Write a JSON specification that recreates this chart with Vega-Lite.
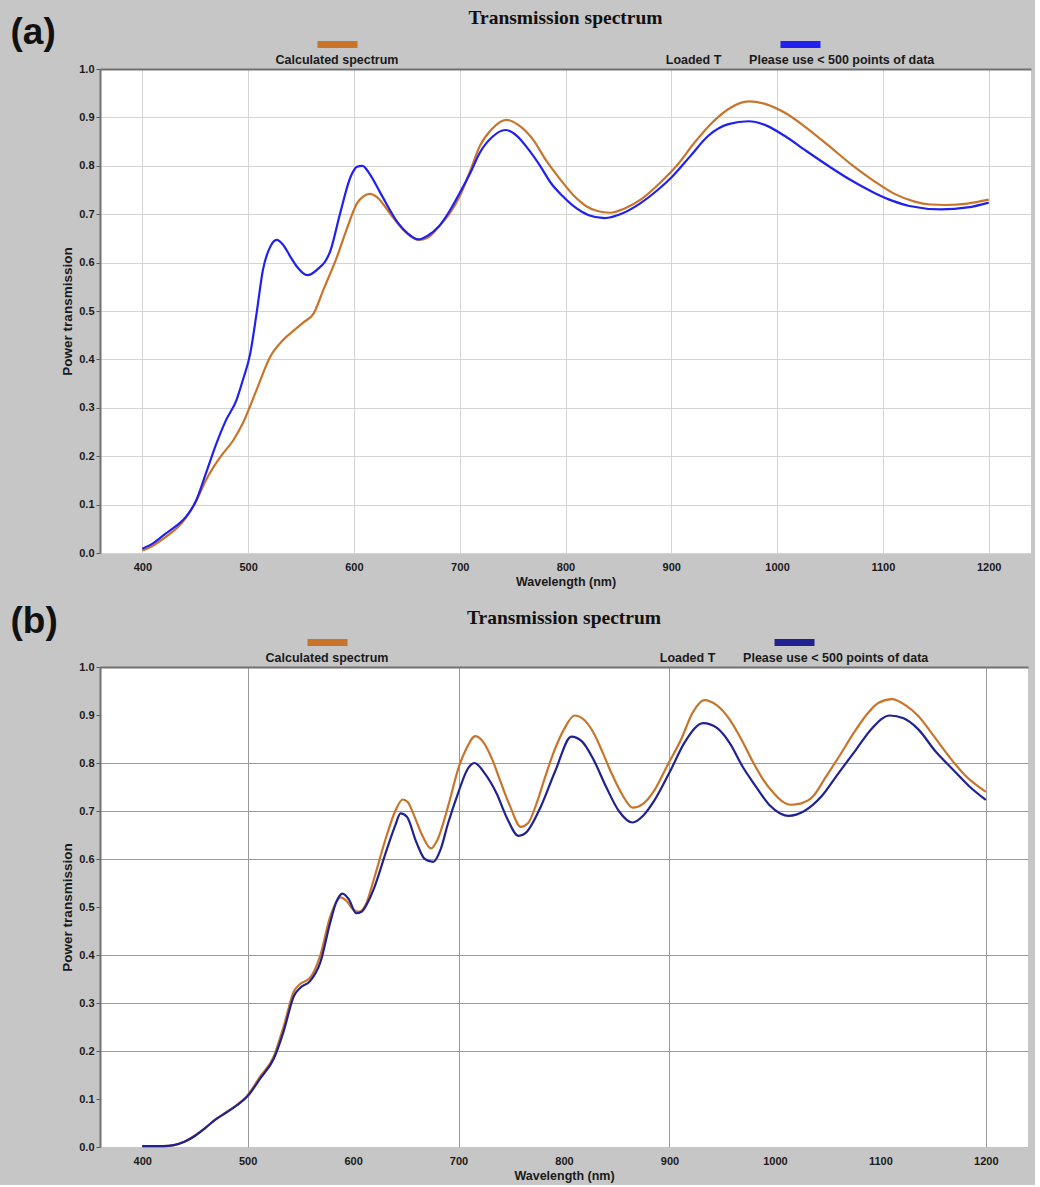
{
  "$schema": "https://vega.github.io/schema/vega-lite/v6.json",
  "background": "#c6c6c6",
  "padding": {"left": 10, "top": 7, "right": 4, "bottom": 3},
  "spacing": 14,
  "resolve": {"scale": {"color": "independent"}},
  "config": {
    "view": {"stroke": null, "fill": "white"},
    "axis": {"labelFont": "Liberation Sans", "labelFontWeight": "bold", "labelFontSize": 11, "labelColor": "#1a1a1a", "titleFont": "Liberation Sans", "titleFontWeight": "bold", "titleFontSize": 12.5, "titleColor": "#1a1a1a"},
    "legend": {"labelFont": "Liberation Sans", "labelFontWeight": "bold", "labelFontSize": 12.5, "labelColor": "#1a1a1a"},
    "title": {"font": "Liberation Serif", "fontSize": 19.5, "fontWeight": "bold", "color": "#111111", "anchor": "middle"}
  },
  "datasets": {
    "a": [
      {"series": "Calculated spectrum", "nm": 400, "T": 0.005},
      {"series": "Calculated spectrum", "nm": 410, "T": 0.015},
      {"series": "Calculated spectrum", "nm": 422, "T": 0.033},
      {"series": "Calculated spectrum", "nm": 432, "T": 0.05},
      {"series": "Calculated spectrum", "nm": 441, "T": 0.072},
      {"series": "Calculated spectrum", "nm": 451, "T": 0.108},
      {"series": "Calculated spectrum", "nm": 460, "T": 0.15},
      {"series": "Calculated spectrum", "nm": 468, "T": 0.18},
      {"series": "Calculated spectrum", "nm": 475, "T": 0.202},
      {"series": "Calculated spectrum", "nm": 486, "T": 0.233},
      {"series": "Calculated spectrum", "nm": 495, "T": 0.268},
      {"series": "Calculated spectrum", "nm": 508, "T": 0.337},
      {"series": "Calculated spectrum", "nm": 521, "T": 0.406},
      {"series": "Calculated spectrum", "nm": 533, "T": 0.44},
      {"series": "Calculated spectrum", "nm": 545, "T": 0.463},
      {"series": "Calculated spectrum", "nm": 552, "T": 0.476},
      {"series": "Calculated spectrum", "nm": 562, "T": 0.495},
      {"series": "Calculated spectrum", "nm": 571, "T": 0.543},
      {"series": "Calculated spectrum", "nm": 584, "T": 0.612},
      {"series": "Calculated spectrum", "nm": 594, "T": 0.674},
      {"series": "Calculated spectrum", "nm": 603, "T": 0.723},
      {"series": "Calculated spectrum", "nm": 609, "T": 0.737},
      {"series": "Calculated spectrum", "nm": 615, "T": 0.742},
      {"series": "Calculated spectrum", "nm": 622, "T": 0.735},
      {"series": "Calculated spectrum", "nm": 634, "T": 0.702},
      {"series": "Calculated spectrum", "nm": 648, "T": 0.665},
      {"series": "Calculated spectrum", "nm": 661, "T": 0.647},
      {"series": "Calculated spectrum", "nm": 670, "T": 0.652},
      {"series": "Calculated spectrum", "nm": 680, "T": 0.674},
      {"series": "Calculated spectrum", "nm": 690, "T": 0.7},
      {"series": "Calculated spectrum", "nm": 700, "T": 0.737},
      {"series": "Calculated spectrum", "nm": 710, "T": 0.79},
      {"series": "Calculated spectrum", "nm": 719, "T": 0.841},
      {"series": "Calculated spectrum", "nm": 730, "T": 0.875},
      {"series": "Calculated spectrum", "nm": 744, "T": 0.895},
      {"series": "Calculated spectrum", "nm": 755, "T": 0.885},
      {"series": "Calculated spectrum", "nm": 769, "T": 0.855},
      {"series": "Calculated spectrum", "nm": 782, "T": 0.81},
      {"series": "Calculated spectrum", "nm": 795, "T": 0.772},
      {"series": "Calculated spectrum", "nm": 808, "T": 0.738},
      {"series": "Calculated spectrum", "nm": 820, "T": 0.716},
      {"series": "Calculated spectrum", "nm": 831, "T": 0.706},
      {"series": "Calculated spectrum", "nm": 842, "T": 0.703},
      {"series": "Calculated spectrum", "nm": 856, "T": 0.712},
      {"series": "Calculated spectrum", "nm": 871, "T": 0.73},
      {"series": "Calculated spectrum", "nm": 888, "T": 0.762},
      {"series": "Calculated spectrum", "nm": 905, "T": 0.8},
      {"series": "Calculated spectrum", "nm": 922, "T": 0.848},
      {"series": "Calculated spectrum", "nm": 939, "T": 0.89},
      {"series": "Calculated spectrum", "nm": 956, "T": 0.92},
      {"series": "Calculated spectrum", "nm": 973, "T": 0.933},
      {"series": "Calculated spectrum", "nm": 990, "T": 0.927},
      {"series": "Calculated spectrum", "nm": 1007, "T": 0.91},
      {"series": "Calculated spectrum", "nm": 1028, "T": 0.878},
      {"series": "Calculated spectrum", "nm": 1049, "T": 0.841},
      {"series": "Calculated spectrum", "nm": 1070, "T": 0.803},
      {"series": "Calculated spectrum", "nm": 1092, "T": 0.768},
      {"series": "Calculated spectrum", "nm": 1111, "T": 0.742},
      {"series": "Calculated spectrum", "nm": 1130, "T": 0.726},
      {"series": "Calculated spectrum", "nm": 1145, "T": 0.72},
      {"series": "Calculated spectrum", "nm": 1159, "T": 0.719},
      {"series": "Calculated spectrum", "nm": 1180, "T": 0.722},
      {"series": "Calculated spectrum", "nm": 1200, "T": 0.73},
      {"series": "Loaded T", "nm": 400, "T": 0.009},
      {"series": "Loaded T", "nm": 410, "T": 0.02},
      {"series": "Loaded T", "nm": 422, "T": 0.04},
      {"series": "Loaded T", "nm": 432, "T": 0.056},
      {"series": "Loaded T", "nm": 441, "T": 0.074},
      {"series": "Loaded T", "nm": 451, "T": 0.109},
      {"series": "Loaded T", "nm": 460, "T": 0.164},
      {"series": "Loaded T", "nm": 470, "T": 0.226},
      {"series": "Loaded T", "nm": 479, "T": 0.274},
      {"series": "Loaded T", "nm": 489, "T": 0.316},
      {"series": "Loaded T", "nm": 495, "T": 0.357},
      {"series": "Loaded T", "nm": 502, "T": 0.412},
      {"series": "Loaded T", "nm": 508, "T": 0.495},
      {"series": "Loaded T", "nm": 514, "T": 0.585},
      {"series": "Loaded T", "nm": 521, "T": 0.633},
      {"series": "Loaded T", "nm": 527, "T": 0.647},
      {"series": "Loaded T", "nm": 533, "T": 0.637},
      {"series": "Loaded T", "nm": 540, "T": 0.612},
      {"series": "Loaded T", "nm": 546, "T": 0.592},
      {"series": "Loaded T", "nm": 556, "T": 0.574},
      {"series": "Loaded T", "nm": 565, "T": 0.585},
      {"series": "Loaded T", "nm": 578, "T": 0.626},
      {"series": "Loaded T", "nm": 587, "T": 0.702},
      {"series": "Loaded T", "nm": 597, "T": 0.778},
      {"series": "Loaded T", "nm": 603, "T": 0.798},
      {"series": "Loaded T", "nm": 608, "T": 0.8},
      {"series": "Loaded T", "nm": 615, "T": 0.783},
      {"series": "Loaded T", "nm": 625, "T": 0.744},
      {"series": "Loaded T", "nm": 642, "T": 0.681},
      {"series": "Loaded T", "nm": 651, "T": 0.66},
      {"series": "Loaded T", "nm": 661, "T": 0.648},
      {"series": "Loaded T", "nm": 670, "T": 0.656},
      {"series": "Loaded T", "nm": 680, "T": 0.674},
      {"series": "Loaded T", "nm": 690, "T": 0.705},
      {"series": "Loaded T", "nm": 700, "T": 0.744},
      {"series": "Loaded T", "nm": 710, "T": 0.785},
      {"series": "Loaded T", "nm": 719, "T": 0.827},
      {"series": "Loaded T", "nm": 731, "T": 0.86},
      {"series": "Loaded T", "nm": 743, "T": 0.874},
      {"series": "Loaded T", "nm": 754, "T": 0.862},
      {"series": "Loaded T", "nm": 765, "T": 0.834},
      {"series": "Loaded T", "nm": 776, "T": 0.8},
      {"series": "Loaded T", "nm": 786, "T": 0.765},
      {"series": "Loaded T", "nm": 797, "T": 0.738},
      {"series": "Loaded T", "nm": 808, "T": 0.716},
      {"series": "Loaded T", "nm": 822, "T": 0.698},
      {"series": "Loaded T", "nm": 837, "T": 0.692},
      {"series": "Loaded T", "nm": 854, "T": 0.702},
      {"series": "Loaded T", "nm": 871, "T": 0.723},
      {"series": "Loaded T", "nm": 886, "T": 0.748},
      {"series": "Loaded T", "nm": 901, "T": 0.778},
      {"series": "Loaded T", "nm": 918, "T": 0.82},
      {"series": "Loaded T", "nm": 935, "T": 0.862},
      {"series": "Loaded T", "nm": 954, "T": 0.886},
      {"series": "Loaded T", "nm": 973, "T": 0.892},
      {"series": "Loaded T", "nm": 990, "T": 0.883},
      {"series": "Loaded T", "nm": 1007, "T": 0.862},
      {"series": "Loaded T", "nm": 1028, "T": 0.83},
      {"series": "Loaded T", "nm": 1049, "T": 0.799},
      {"series": "Loaded T", "nm": 1070, "T": 0.77},
      {"series": "Loaded T", "nm": 1092, "T": 0.744},
      {"series": "Loaded T", "nm": 1110, "T": 0.727},
      {"series": "Loaded T", "nm": 1125, "T": 0.717},
      {"series": "Loaded T", "nm": 1155, "T": 0.71},
      {"series": "Loaded T", "nm": 1180, "T": 0.714},
      {"series": "Loaded T", "nm": 1200, "T": 0.724}
    ],
    "b": [
      {"series": "Calculated spectrum", "nm": 400, "T": 0.002},
      {"series": "Calculated spectrum", "nm": 420, "T": 0.002},
      {"series": "Calculated spectrum", "nm": 430, "T": 0.004},
      {"series": "Calculated spectrum", "nm": 440, "T": 0.011},
      {"series": "Calculated spectrum", "nm": 450, "T": 0.024},
      {"series": "Calculated spectrum", "nm": 460, "T": 0.04},
      {"series": "Calculated spectrum", "nm": 470, "T": 0.058},
      {"series": "Calculated spectrum", "nm": 480, "T": 0.073},
      {"series": "Calculated spectrum", "nm": 490, "T": 0.088},
      {"series": "Calculated spectrum", "nm": 500, "T": 0.108},
      {"series": "Calculated spectrum", "nm": 512, "T": 0.147},
      {"series": "Calculated spectrum", "nm": 525, "T": 0.19},
      {"series": "Calculated spectrum", "nm": 534, "T": 0.25},
      {"series": "Calculated spectrum", "nm": 544, "T": 0.325},
      {"series": "Calculated spectrum", "nm": 550, "T": 0.34},
      {"series": "Calculated spectrum", "nm": 559, "T": 0.352},
      {"series": "Calculated spectrum", "nm": 569, "T": 0.4},
      {"series": "Calculated spectrum", "nm": 578, "T": 0.478},
      {"series": "Calculated spectrum", "nm": 584, "T": 0.51},
      {"series": "Calculated spectrum", "nm": 588, "T": 0.52},
      {"series": "Calculated spectrum", "nm": 594, "T": 0.512},
      {"series": "Calculated spectrum", "nm": 600, "T": 0.495},
      {"series": "Calculated spectrum", "nm": 606, "T": 0.49},
      {"series": "Calculated spectrum", "nm": 612, "T": 0.505},
      {"series": "Calculated spectrum", "nm": 620, "T": 0.56},
      {"series": "Calculated spectrum", "nm": 632, "T": 0.65},
      {"series": "Calculated spectrum", "nm": 640, "T": 0.7},
      {"series": "Calculated spectrum", "nm": 647, "T": 0.724},
      {"series": "Calculated spectrum", "nm": 652, "T": 0.718},
      {"series": "Calculated spectrum", "nm": 657, "T": 0.695},
      {"series": "Calculated spectrum", "nm": 665, "T": 0.652},
      {"series": "Calculated spectrum", "nm": 674, "T": 0.622},
      {"series": "Calculated spectrum", "nm": 680, "T": 0.64},
      {"series": "Calculated spectrum", "nm": 690, "T": 0.709},
      {"series": "Calculated spectrum", "nm": 700, "T": 0.79},
      {"series": "Calculated spectrum", "nm": 707, "T": 0.828},
      {"series": "Calculated spectrum", "nm": 716, "T": 0.856},
      {"series": "Calculated spectrum", "nm": 724, "T": 0.842},
      {"series": "Calculated spectrum", "nm": 732, "T": 0.807},
      {"series": "Calculated spectrum", "nm": 740, "T": 0.76},
      {"series": "Calculated spectrum", "nm": 749, "T": 0.709},
      {"series": "Calculated spectrum", "nm": 759, "T": 0.667},
      {"series": "Calculated spectrum", "nm": 766, "T": 0.675},
      {"series": "Calculated spectrum", "nm": 774, "T": 0.716},
      {"series": "Calculated spectrum", "nm": 782, "T": 0.77},
      {"series": "Calculated spectrum", "nm": 790, "T": 0.821},
      {"series": "Calculated spectrum", "nm": 800, "T": 0.87},
      {"series": "Calculated spectrum", "nm": 810, "T": 0.899},
      {"series": "Calculated spectrum", "nm": 819, "T": 0.89},
      {"series": "Calculated spectrum", "nm": 828, "T": 0.863},
      {"series": "Calculated spectrum", "nm": 837, "T": 0.82},
      {"series": "Calculated spectrum", "nm": 845, "T": 0.779},
      {"series": "Calculated spectrum", "nm": 855, "T": 0.735},
      {"series": "Calculated spectrum", "nm": 865, "T": 0.707},
      {"series": "Calculated spectrum", "nm": 875, "T": 0.715},
      {"series": "Calculated spectrum", "nm": 886, "T": 0.744},
      {"series": "Calculated spectrum", "nm": 898, "T": 0.795},
      {"series": "Calculated spectrum", "nm": 911, "T": 0.849},
      {"series": "Calculated spectrum", "nm": 922, "T": 0.905},
      {"series": "Calculated spectrum", "nm": 933, "T": 0.931},
      {"series": "Calculated spectrum", "nm": 945, "T": 0.92},
      {"series": "Calculated spectrum", "nm": 957, "T": 0.891},
      {"series": "Calculated spectrum", "nm": 968, "T": 0.85},
      {"series": "Calculated spectrum", "nm": 978, "T": 0.807},
      {"series": "Calculated spectrum", "nm": 989, "T": 0.765},
      {"series": "Calculated spectrum", "nm": 999, "T": 0.737},
      {"series": "Calculated spectrum", "nm": 1007, "T": 0.72},
      {"series": "Calculated spectrum", "nm": 1015, "T": 0.713},
      {"series": "Calculated spectrum", "nm": 1025, "T": 0.716},
      {"series": "Calculated spectrum", "nm": 1036, "T": 0.73},
      {"series": "Calculated spectrum", "nm": 1048, "T": 0.77},
      {"series": "Calculated spectrum", "nm": 1061, "T": 0.814},
      {"series": "Calculated spectrum", "nm": 1074, "T": 0.86},
      {"series": "Calculated spectrum", "nm": 1086, "T": 0.898},
      {"series": "Calculated spectrum", "nm": 1098, "T": 0.925},
      {"series": "Calculated spectrum", "nm": 1111, "T": 0.933},
      {"series": "Calculated spectrum", "nm": 1124, "T": 0.92},
      {"series": "Calculated spectrum", "nm": 1136, "T": 0.898},
      {"series": "Calculated spectrum", "nm": 1150, "T": 0.858},
      {"series": "Calculated spectrum", "nm": 1165, "T": 0.814},
      {"series": "Calculated spectrum", "nm": 1180, "T": 0.775},
      {"series": "Calculated spectrum", "nm": 1200, "T": 0.74},
      {"series": "Loaded T", "nm": 400, "T": 0.002},
      {"series": "Loaded T", "nm": 420, "T": 0.002},
      {"series": "Loaded T", "nm": 430, "T": 0.004},
      {"series": "Loaded T", "nm": 440, "T": 0.011},
      {"series": "Loaded T", "nm": 450, "T": 0.023},
      {"series": "Loaded T", "nm": 460, "T": 0.04},
      {"series": "Loaded T", "nm": 470, "T": 0.058},
      {"series": "Loaded T", "nm": 480, "T": 0.072},
      {"series": "Loaded T", "nm": 490, "T": 0.087},
      {"series": "Loaded T", "nm": 500, "T": 0.106},
      {"series": "Loaded T", "nm": 512, "T": 0.143},
      {"series": "Loaded T", "nm": 525, "T": 0.185},
      {"series": "Loaded T", "nm": 534, "T": 0.24},
      {"series": "Loaded T", "nm": 544, "T": 0.315},
      {"series": "Loaded T", "nm": 550, "T": 0.332},
      {"series": "Loaded T", "nm": 559, "T": 0.345},
      {"series": "Loaded T", "nm": 569, "T": 0.385},
      {"series": "Loaded T", "nm": 578, "T": 0.465},
      {"series": "Loaded T", "nm": 584, "T": 0.51},
      {"series": "Loaded T", "nm": 590, "T": 0.528},
      {"series": "Loaded T", "nm": 596, "T": 0.516},
      {"series": "Loaded T", "nm": 603, "T": 0.487},
      {"series": "Loaded T", "nm": 608, "T": 0.49},
      {"series": "Loaded T", "nm": 614, "T": 0.51},
      {"series": "Loaded T", "nm": 620, "T": 0.54},
      {"series": "Loaded T", "nm": 632, "T": 0.62},
      {"series": "Loaded T", "nm": 640, "T": 0.67},
      {"series": "Loaded T", "nm": 645, "T": 0.695},
      {"series": "Loaded T", "nm": 651, "T": 0.688},
      {"series": "Loaded T", "nm": 660, "T": 0.635},
      {"series": "Loaded T", "nm": 668, "T": 0.6},
      {"series": "Loaded T", "nm": 676, "T": 0.594},
      {"series": "Loaded T", "nm": 683, "T": 0.62},
      {"series": "Loaded T", "nm": 690, "T": 0.674},
      {"series": "Loaded T", "nm": 700, "T": 0.74},
      {"series": "Loaded T", "nm": 708, "T": 0.785},
      {"series": "Loaded T", "nm": 715, "T": 0.8},
      {"series": "Loaded T", "nm": 725, "T": 0.778},
      {"series": "Loaded T", "nm": 736, "T": 0.737},
      {"series": "Loaded T", "nm": 746, "T": 0.685},
      {"series": "Loaded T", "nm": 757, "T": 0.648},
      {"series": "Loaded T", "nm": 764, "T": 0.655},
      {"series": "Loaded T", "nm": 778, "T": 0.709},
      {"series": "Loaded T", "nm": 792, "T": 0.785},
      {"series": "Loaded T", "nm": 807, "T": 0.855},
      {"series": "Loaded T", "nm": 817, "T": 0.845},
      {"series": "Loaded T", "nm": 828, "T": 0.807},
      {"series": "Loaded T", "nm": 840, "T": 0.75},
      {"series": "Loaded T", "nm": 852, "T": 0.7},
      {"series": "Loaded T", "nm": 865, "T": 0.676},
      {"series": "Loaded T", "nm": 875, "T": 0.69},
      {"series": "Loaded T", "nm": 886, "T": 0.723},
      {"series": "Loaded T", "nm": 900, "T": 0.78},
      {"series": "Loaded T", "nm": 915, "T": 0.845},
      {"series": "Loaded T", "nm": 932, "T": 0.883},
      {"series": "Loaded T", "nm": 945, "T": 0.873},
      {"series": "Loaded T", "nm": 957, "T": 0.842},
      {"series": "Loaded T", "nm": 970, "T": 0.79},
      {"series": "Loaded T", "nm": 982, "T": 0.751},
      {"series": "Loaded T", "nm": 995, "T": 0.712},
      {"series": "Loaded T", "nm": 1005, "T": 0.695},
      {"series": "Loaded T", "nm": 1013, "T": 0.69},
      {"series": "Loaded T", "nm": 1028, "T": 0.7},
      {"series": "Loaded T", "nm": 1044, "T": 0.73},
      {"series": "Loaded T", "nm": 1060, "T": 0.778},
      {"series": "Loaded T", "nm": 1077, "T": 0.828},
      {"series": "Loaded T", "nm": 1092, "T": 0.872},
      {"series": "Loaded T", "nm": 1109, "T": 0.899},
      {"series": "Loaded T", "nm": 1122, "T": 0.893},
      {"series": "Loaded T", "nm": 1136, "T": 0.87},
      {"series": "Loaded T", "nm": 1152, "T": 0.825},
      {"series": "Loaded T", "nm": 1169, "T": 0.786},
      {"series": "Loaded T", "nm": 1185, "T": 0.75},
      {"series": "Loaded T", "nm": 1200, "T": 0.723}
    ]
  },
  "vconcat": [
    {
      "data": {"name": "a"},
      "width": 931,
      "height": 484,
      "title": {"text": "Transmission spectrum", "offset": -15},
      "encoding": {
        "y": {"field": "T", "type": "quantitative", "scale": {"domain": [0, 1], "nice": false},
          "axis": {"title": "Power transmission", "titleFontSize": 13.5, "values": [0, 0.1, 0.2, 0.3, 0.4, 0.5, 0.6, 0.7, 0.8, 0.9, 1], "format": ".1f", "tickSize": 4, "tickColor": "#555555", "labelPadding": 2, "titlePadding": 4, "domainColor": "#707070", "domainWidth": 2, "gridColor": "#d4d4d4"}},
        "color": {"field": "series", "type": "nominal",
          "scale": {"domain": ["Calculated spectrum", "Loaded T"], "range": ["#c8742a", "#2020f0"]},
          "legend": {"orient": "none", "legendX": 214, "legendY": -33, "direction": "horizontal", "title": null, "symbolType": "M-1,-0.75L1,-0.75", "symbolSize": 1600, "symbolStrokeWidth": 7, "labelAlign": "center", "labelOffset": -24, "columnPadding": 266, "labelLimit": 400,
            "labelExpr": "datum.label == 'Loaded T' ? 'Loaded T\u00a0\u00a0\u00a0\u00a0\u00a0\u00a0\u00a0\u00a0Please use < 500 points of data' : datum.label"}}
      },
      "layer": [
        {
          "transform": [{"filter": "datum.series == 'Calculated spectrum'"}],
          "mark": {"type": "line", "interpolate": "monotone", "strokeWidth": 2.2},
          "encoding": {
            "x": {"field": "nm", "type": "quantitative", "scale": {"domain": [360, 1240], "nice": false, "zero": false},
              "axis": {"title": "Wavelength (nm)", "values": [400, 500, 600, 700, 800, 900, 1000, 1100, 1200], "format": "d", "ticks": false, "domain": false, "grid": true, "gridColor": "#d4d4d4", "labelPadding": 8, "titlePadding": 3}}
          }
        },
        {
          "transform": [{"filter": "datum.series == 'Loaded T'"}],
          "mark": {"type": "line", "interpolate": "monotone", "strokeWidth": 2.2},
          "encoding": {
            "x": {"field": "nm", "type": "quantitative",
              "axis": {"orient": "top", "title": "(a)", "labels": false, "ticks": false, "grid": false, "domain": true, "domainColor": "#707070", "domainWidth": 2, "titleFont": "Liberation Sans", "titleFontSize": 37, "titleFontWeight": "bold", "titleColor": "#111111", "titleAngle": 0, "titleAlign": "left", "titleBaseline": "top", "titleX": -90, "titleY": -55}}
          }
        }
      ],
      "resolve": {"axis": {"x": "independent"}}
    },
    {
      "data": {"name": "b"},
      "width": 928,
      "height": 480,
      "title": {"text": "Transmission spectrum", "offset": -26},
      "encoding": {
        "y": {"field": "T", "type": "quantitative", "scale": {"domain": [0, 1], "nice": false},
          "axis": {"title": "Power transmission", "titleFontSize": 13.5, "values": [0, 0.1, 0.2, 0.3, 0.4, 0.5, 0.6, 0.7, 0.8, 0.9, 1], "format": ".1f", "tickSize": 4, "tickColor": "#555555", "labelPadding": 2, "titlePadding": 4, "domainColor": "#707070", "domainWidth": 2, "gridColor": "#9a9a9a",
            "gridOpacity": {"condition": {"test": "datum.value == 0.2 || datum.value == 0.3 || datum.value == 0.4 || datum.value == 0.6 || datum.value == 0.7 || datum.value == 0.8", "value": 1}, "value": 0}}},
        "color": {"field": "series", "type": "nominal",
          "scale": {"domain": ["Calculated spectrum", "Loaded T"], "range": ["#c8742a", "#1f2290"]},
          "legend": {"orient": "none", "legendX": 204, "legendY": -33, "direction": "horizontal", "title": null, "symbolType": "M-1,-0.75L1,-0.75", "symbolSize": 1600, "symbolStrokeWidth": 7, "labelAlign": "center", "labelOffset": -24, "columnPadding": 270, "labelLimit": 400,
            "labelExpr": "datum.label == 'Loaded T' ? 'Loaded T\u00a0\u00a0\u00a0\u00a0\u00a0\u00a0\u00a0\u00a0Please use < 500 points of data' : datum.label"}}
      },
      "layer": [
        {
          "transform": [{"filter": "datum.series == 'Calculated spectrum'"}],
          "mark": {"type": "line", "interpolate": "monotone", "strokeWidth": 2.2},
          "encoding": {
            "x": {"field": "nm", "type": "quantitative", "scale": {"domain": [360, 1240], "nice": false, "zero": false},
              "axis": {"title": "Wavelength (nm)", "values": [400, 500, 600, 700, 800, 900, 1000, 1100, 1200], "format": "d", "ticks": false, "domain": false, "grid": true, "gridColor": "#9a9a9a",
                "gridOpacity": {"condition": {"test": "datum.value == 500 || datum.value == 700 || datum.value == 900 || datum.value == 1200", "value": 1}, "value": 0},
                "labelPadding": 8, "titlePadding": 3}}
          }
        },
        {
          "transform": [{"filter": "datum.series == 'Loaded T'"}],
          "mark": {"type": "line", "interpolate": "monotone", "strokeWidth": 2.2},
          "encoding": {
            "x": {"field": "nm", "type": "quantitative",
              "axis": {"orient": "top", "title": "(b)", "labels": false, "ticks": false, "grid": false, "domain": true, "domainColor": "#707070", "domainWidth": 2, "titleFont": "Liberation Sans", "titleFontSize": 37, "titleFontWeight": "bold", "titleColor": "#111111", "titleAngle": 0, "titleAlign": "left", "titleBaseline": "top", "titleX": -90, "titleY": -64}}
          }
        }
      ],
      "resolve": {"axis": {"x": "independent"}}
    }
  ]
}
